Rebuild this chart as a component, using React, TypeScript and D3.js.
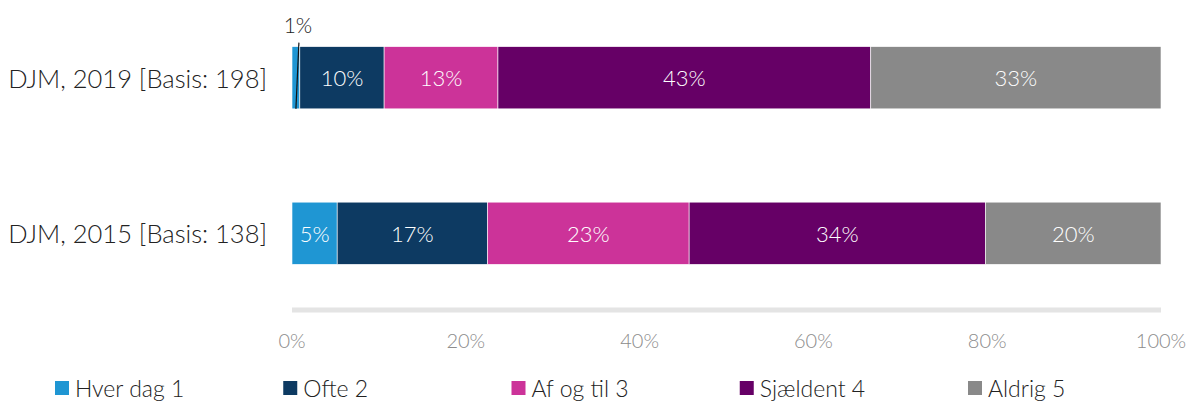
import React from "react";
import * as d3 from "d3";

const categories = ["DJM, 2019 [Basis: 198]", "DJM, 2015 [Basis: 138]"];
const seriesNames = ["Hver dag 1", "Ofte 2", "Af og til 3", "Sjældent 4", "Aldrig 5"];
const seriesColors = ["#1f96d3", "#0d3a62", "#cc3399", "#660066", "#898989"];
const values2019 = [0.9, 9.7, 13.1, 42.9, 33.4];
const values2015 = [5.2, 17.3, 23.2, 34.1, 20.2];
const labels2019 = ["1%", "10%", "13%", "43%", "33%"];
const labels2015 = ["5%", "17%", "23%", "34%", "20%"];
const tickValues = [0, 20, 40, 60, 80, 100];

const W = 1189, H = 404;
const FONT = "'Lato', 'Open Sans', sans-serif";

export default function App() {
  const x = d3.scaleLinear().domain([0, 100]).range([292, 1161]);
  const y = d3.scaleBand().domain(categories).range([0, 311]).paddingInner(0.6).paddingOuter(0.3);
  const rows = [
    { cat: categories[0], vals: values2019, labels: labels2019 },
    { cat: categories[1], vals: values2015, labels: labels2015 },
  ];
  const legendX = d3.scalePoint().domain(seriesNames).range([55, 968]);
  return (
    <svg width={W} height={H} style={{ position: "absolute", left: 0, top: 0, fontFamily: FONT }}>
      <rect width={W} height={H} fill="#fff" />
      {rows.map((r) => {
        const stack = d3.cumsum(r.vals);
        const y0 = y(r.cat)!;
        const bh = y.bandwidth();
        return (
          <g key={r.cat}>
            <text x={267} y={y0 + bh / 2} textAnchor="end" dominantBaseline="central" fontSize={25.5} fontWeight={300} fill="#222">{r.cat}</text>
            {r.vals.map((v, i) => {
              const start = i === 0 ? 0 : stack[i - 1];
              const x0 = x(start), x1 = x(stack[i]);
              const small = v < 3;
              return (
                <g key={i}>
                  <rect x={x0} y={y0} width={x1 - x0} height={bh} fill={seriesColors[i]} stroke="#fff" strokeWidth={0.6} />
                  {!small && (
                    <text x={(x0 + x1) / 2} y={y0 + bh / 2} textAnchor="middle" dominantBaseline="central" fontSize={22} fontWeight={300} fill="#fff">{r.labels[i]}</text>
                  )}
                  {small && (
                    <g>
                      <line x1={(x0 + x1) / 2 + 3} y1={y0 - 4} x2={(x0 + x1) / 2} y2={y0 + bh} stroke="#111" strokeWidth={1.2} />
                      <text x={(x0 + x1) / 2 + 2} y={y0 - 14} textAnchor="middle" fontSize={21} fontWeight={300} fill="#222">{r.labels[i]}</text>
                    </g>
                  )}
                </g>
              );
            })}
          </g>
        );
      })}
      <line x1={x(0)} x2={x(100)} y1={310} y2={310} stroke="#e4e4e4" strokeWidth={5} />
      {tickValues.map((t) => (
        <text key={t} x={x(t)} y={340} textAnchor="middle" dominantBaseline="central" fontSize={20} fontWeight={300} fill="#8c8c8c">{t}%</text>
      ))}
      {seriesNames.map((s, i) => (
        <g key={s} transform={`translate(${legendX(s)},388)`}>
          <rect x={0} y={-7} width={14} height={14} fill={seriesColors[i]} />
          <text x={20} y={0} dominantBaseline="central" fontSize={23} fontWeight={300} fill="#222">{s}</text>
        </g>
      ))}
    </svg>
  );
}
